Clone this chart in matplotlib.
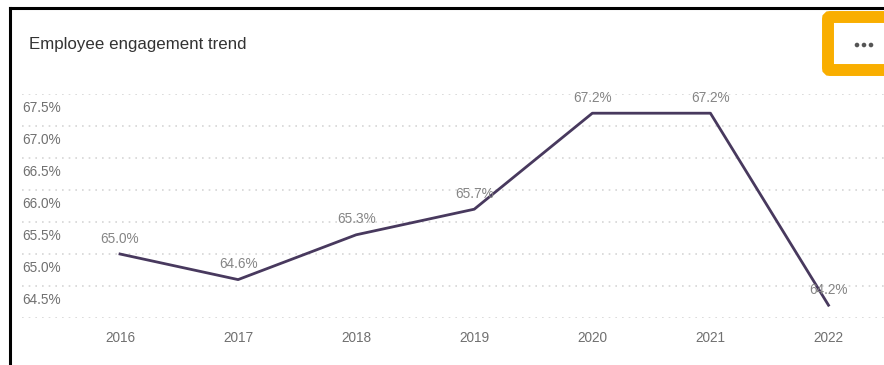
import matplotlib
matplotlib.use('Agg')
import matplotlib.pyplot as plt
from matplotlib.lines import Line2D
from matplotlib.patches import FancyBboxPatch, Circle
import matplotlib.transforms as mtransforms

plt.rcParams['font.family'] = ['Liberation Sans', 'DejaVu Sans']

years = ['2016', '2017', '2018', '2019', '2020', '2021', '2022']
engagement = [65.0, 64.6, 65.3, 65.7, 67.2, 67.2, 64.2]
grid_levels = [64.0, 64.5, 65.0, 65.5, 66.0, 66.5, 67.0, 67.5]
tick_labels = ['64.5%', '65.0%', '65.5%', '66.0%', '66.5%', '67.0%', '67.5%']

W, H = 884, 365
fig = plt.figure(figsize=(W / 100, H / 100), dpi=100)
fig.patch.set_facecolor('white')

ax = fig.add_axes([22 / W, 1 - 318 / H, 1 - 22 / W, (318 - 94) / H])
x = list(range(len(years)))
ax.plot(x, engagement, color='#48395e', lw=2, clip_on=False, zorder=3)

for xi, v in zip(x, engagement):
    ax.annotate(f'{v:.1f}%', (xi, v), xytext=(0, 6), textcoords='offset points',
                ha='center', va='bottom', fontsize=9.8, color='#858585')

ax.set_xlim(-0.83, 6.47)
ax.set_ylim(grid_levels[0], grid_levels[-1])
ax.set_yticks(grid_levels)
ax.set_yticklabels([])
ax.tick_params(axis='y', length=0)
ax.yaxis.grid(True, color='#d6d6d6', linestyle=(0, (1, 3)), lw=1.2)
ax.set_xticks(x)
ax.set_xticklabels(years, fontsize=9.8, color='#707070')
ax.tick_params(axis='x', length=0, pad=9)
for s in ax.spines.values():
    s.set_visible(False)

# y labels sit just under their gridline, inside the plot
off = mtransforms.offset_copy(ax.get_yaxis_transform(), fig=fig, x=0, y=-7, units='dots')
for lvl, lab in zip(grid_levels[1:], tick_labels):
    ax.text(0, lvl, lab, transform=off, ha='left', va='top', fontsize=9.8, color='#707070')

fig.text(29 / W, 1 - 45 / H, 'Employee engagement trend', fontsize=12.2, color='#333333',
         ha='left', va='center')

# screenshot frame
fig.add_artist(Line2D([10 / W, 10 / W], [0, 1 - 8 / H], color='black', lw=2.2,
                      transform=fig.transFigure))
fig.add_artist(Line2D([10 / W, 1], [1 - 8 / H, 1 - 8 / H], color='black', lw=2.2,
                      transform=fig.transFigure))

# highlighted menu button
box = FancyBboxPatch((828, H - 70), 80, 53, boxstyle='round,pad=0,rounding_size=2',
                     transform=None, facecolor='white', edgecolor='#f9ae00', lw=8.6)
fig.add_artist(box)
for cx in (857, 864, 871):
    fig.add_artist(Circle((cx, H - 45), 1.6, transform=None, color='#555555'))

fig.savefig('out.png', dpi=100)
